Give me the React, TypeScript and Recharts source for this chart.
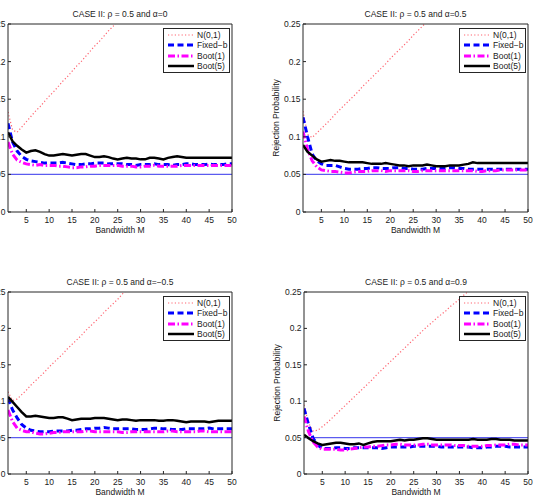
import { LineChart, Line, XAxis, YAxis, ReferenceLine, Legend, Label } from 'recharts'

const FONT = '"Liberation Sans", Arial, Helvetica, sans-serif'
const TEXT = '#1a1a1a'
const FRAME = '#262626'

const BANDWIDTH = [
  1, 2, 3, 4, 5, 6, 7, 8, 9, 10, 11, 12, 13, 14, 15, 16, 17, 18, 19, 20, 21, 22, 23, 24, 25,
  26, 27, 28, 29, 30, 31, 32, 33, 34, 35, 36, 37, 38, 39, 40, 41, 42, 43, 44, 45, 46, 47, 48, 49, 50,
]
const X_TICKS = [5, 10, 15, 20, 25, 30, 35, 40, 45, 50]
const Y_TICKS = [0, 0.05, 0.1, 0.15, 0.2, 0.25]
const NOMINAL = 0.05

// alpha = 0
const A0_N01 = [
  0.133, 0.109, 0.106, 0.113, 0.12, 0.127, 0.134, 0.14, 0.147, 0.154,
  0.16, 0.167, 0.174, 0.18, 0.187, 0.194, 0.2, 0.207, 0.214, 0.221,
  0.227, 0.234, 0.241, 0.247, 0.254, 0.261,
]
const A0_FIXEDB = [
  0.118, 0.093, 0.081, 0.074, 0.07, 0.068, 0.067, 0.066, 0.065, 0.065,
  0.065, 0.065, 0.066, 0.065, 0.064, 0.063, 0.063, 0.064, 0.064, 0.065,
  0.065, 0.065, 0.064, 0.064, 0.064, 0.064, 0.063, 0.063, 0.062, 0.063,
  0.063, 0.063, 0.064, 0.063, 0.063, 0.063, 0.062, 0.063, 0.063, 0.064,
  0.064, 0.063, 0.063, 0.063, 0.064, 0.063, 0.063, 0.063, 0.064, 0.064,
]
const A0_BOOT1 = [
  0.093, 0.077, 0.069, 0.066, 0.064, 0.063, 0.062, 0.063, 0.062, 0.062,
  0.062, 0.061, 0.061, 0.06, 0.059, 0.059, 0.06, 0.06, 0.061, 0.061,
  0.062, 0.062, 0.062, 0.062, 0.062, 0.061, 0.061, 0.061, 0.06, 0.06,
  0.061, 0.061, 0.062, 0.061, 0.061, 0.061, 0.061, 0.061, 0.062, 0.062,
  0.062, 0.062, 0.062, 0.062, 0.062, 0.062, 0.062, 0.062, 0.062, 0.062,
]
const A0_BOOT5 = [
  0.106, 0.094, 0.088, 0.083, 0.079, 0.081, 0.082, 0.08, 0.077, 0.075,
  0.075, 0.076, 0.077, 0.076, 0.075, 0.076, 0.077, 0.077, 0.075, 0.073,
  0.073, 0.074, 0.073, 0.071, 0.07, 0.071, 0.072, 0.071, 0.071, 0.07,
  0.07, 0.072, 0.072, 0.071, 0.07, 0.072, 0.073, 0.074, 0.073, 0.072,
  0.072, 0.072, 0.072, 0.072, 0.072, 0.072, 0.072, 0.072, 0.072, 0.072,
]

// alpha = 0.5
const A05_N01 = [
  0.134, 0.103, 0.099, 0.105, 0.111, 0.117, 0.123, 0.13, 0.136, 0.142,
  0.148, 0.154, 0.16, 0.167, 0.173, 0.179, 0.185, 0.191, 0.197, 0.204,
  0.21, 0.216, 0.222, 0.228, 0.235, 0.241, 0.247, 0.253, 0.259,
]
const A05_FIXEDB = [
  0.126, 0.1, 0.077, 0.068, 0.064, 0.062, 0.062, 0.062, 0.06, 0.058,
  0.057, 0.057, 0.057, 0.058, 0.058, 0.059, 0.059, 0.058, 0.058, 0.058,
  0.059, 0.059, 0.058, 0.058, 0.057, 0.057, 0.057, 0.058, 0.058, 0.058,
  0.058, 0.058, 0.059, 0.059, 0.058, 0.058, 0.057, 0.057, 0.057, 0.057,
  0.057, 0.057, 0.057, 0.057, 0.057, 0.057, 0.057, 0.057, 0.057, 0.057,
]
const A05_BOOT1 = [
  0.107, 0.083, 0.068, 0.06, 0.056, 0.055, 0.054, 0.054, 0.053, 0.052,
  0.052, 0.053, 0.054, 0.054, 0.054, 0.055, 0.055, 0.055, 0.054, 0.055,
  0.055, 0.055, 0.055, 0.055, 0.054, 0.054, 0.055, 0.055, 0.055, 0.055,
  0.055, 0.055, 0.055, 0.055, 0.055, 0.055, 0.055, 0.055, 0.054, 0.054,
  0.055, 0.055, 0.055, 0.056, 0.056, 0.056, 0.056, 0.056, 0.056, 0.056,
]
const A05_BOOT5 = [
  0.089, 0.08, 0.075, 0.07, 0.067, 0.068, 0.069, 0.068, 0.068, 0.067,
  0.066, 0.066, 0.066, 0.066, 0.065, 0.064, 0.064, 0.064, 0.065, 0.064,
  0.063, 0.062, 0.062, 0.061, 0.062, 0.062, 0.062, 0.063, 0.062, 0.061,
  0.061, 0.061, 0.062, 0.062, 0.062, 0.063, 0.064, 0.066, 0.065, 0.065,
  0.065, 0.065, 0.065, 0.065, 0.065, 0.065, 0.065, 0.065, 0.065, 0.065,
]

// alpha = -0.5
const AM05_N01 = [
  0.113, 0.101, 0.103, 0.109, 0.115, 0.122, 0.128, 0.134, 0.14, 0.147,
  0.153, 0.159, 0.165, 0.172, 0.178, 0.184, 0.19, 0.197, 0.203, 0.209,
  0.215, 0.222, 0.228, 0.234, 0.24, 0.247, 0.253, 0.259,
]
const AM05_FIXEDB = [
  0.104, 0.088, 0.077, 0.068, 0.063, 0.06, 0.059, 0.058, 0.058, 0.058,
  0.059, 0.059, 0.059, 0.059, 0.06, 0.06, 0.061, 0.062, 0.062, 0.063,
  0.063, 0.064, 0.063, 0.062, 0.062, 0.062, 0.062, 0.062, 0.061, 0.061,
  0.061, 0.062, 0.063, 0.063, 0.062, 0.062, 0.061, 0.061, 0.061, 0.062,
  0.062, 0.062, 0.062, 0.062, 0.063, 0.062, 0.062, 0.062, 0.062, 0.062,
]
const AM05_BOOT1 = [
  0.088, 0.072, 0.063, 0.06, 0.058, 0.058, 0.056, 0.055, 0.055, 0.056,
  0.057, 0.057, 0.058, 0.058, 0.058, 0.058, 0.058, 0.059, 0.059, 0.058,
  0.058, 0.058, 0.058, 0.058, 0.058, 0.057, 0.057, 0.058, 0.058, 0.058,
  0.058, 0.058, 0.058, 0.058, 0.058, 0.059, 0.059, 0.058, 0.058, 0.058,
  0.058, 0.058, 0.059, 0.059, 0.058, 0.058, 0.058, 0.058, 0.058, 0.058,
]
const AM05_BOOT5 = [
  0.106, 0.099, 0.092, 0.085, 0.079, 0.079, 0.08, 0.079, 0.078, 0.077,
  0.077, 0.078, 0.078, 0.076, 0.074, 0.075, 0.076, 0.076, 0.076, 0.077,
  0.077, 0.077, 0.076, 0.075, 0.074, 0.075, 0.075, 0.074, 0.073, 0.074,
  0.074, 0.074, 0.074, 0.073, 0.073, 0.074, 0.074, 0.073, 0.072, 0.071,
  0.072, 0.072, 0.072, 0.072, 0.071, 0.072, 0.073, 0.073, 0.073, 0.073,
]

// alpha = 0.9
const A09_N01 = [
  0.095, 0.07, 0.059, 0.06, 0.065, 0.07, 0.076, 0.082, 0.088, 0.094,
  0.1, 0.106, 0.112, 0.118, 0.124, 0.13, 0.137, 0.143, 0.149, 0.155,
  0.161, 0.167, 0.173, 0.179, 0.185, 0.191, 0.197, 0.203, 0.208, 0.214,
  0.219, 0.224, 0.23, 0.235, 0.24, 0.246, 0.251, 0.256,
]
const A09_FIXEDB = [
  0.09, 0.068, 0.049, 0.04, 0.035, 0.035, 0.035, 0.036, 0.036, 0.035,
  0.035, 0.036, 0.036, 0.036, 0.036, 0.036, 0.036, 0.035, 0.036, 0.037,
  0.037, 0.037, 0.037, 0.037, 0.038, 0.038, 0.038, 0.038, 0.038, 0.038,
  0.037, 0.037, 0.037, 0.037, 0.037, 0.037, 0.037, 0.036, 0.036, 0.036,
  0.037, 0.037, 0.038, 0.038, 0.038, 0.037, 0.037, 0.037, 0.037, 0.037,
]
const A09_BOOT1 = [
  0.079, 0.058, 0.044, 0.037, 0.034, 0.034, 0.034, 0.034, 0.033, 0.033,
  0.034, 0.035, 0.036, 0.037, 0.037, 0.038, 0.038, 0.039, 0.04, 0.04,
  0.041, 0.041, 0.04, 0.04, 0.04, 0.04, 0.041, 0.041, 0.04, 0.04,
  0.04, 0.04, 0.04, 0.039, 0.039, 0.039, 0.038, 0.038, 0.038, 0.038,
  0.039, 0.039, 0.04, 0.04, 0.04, 0.041, 0.041, 0.04, 0.04, 0.04,
]
const A09_BOOT5 = [
  0.054, 0.049, 0.045, 0.042, 0.04, 0.041, 0.042, 0.043, 0.043, 0.042,
  0.041, 0.041, 0.042, 0.04, 0.042, 0.044, 0.045, 0.045, 0.045, 0.045,
  0.046, 0.047, 0.046, 0.047, 0.047, 0.048, 0.049, 0.049, 0.048, 0.047,
  0.047, 0.047, 0.047, 0.047, 0.047, 0.047, 0.047, 0.048, 0.047, 0.047,
  0.047, 0.048, 0.048, 0.047, 0.047, 0.047, 0.046, 0.046, 0.046, 0.046,
]

const SERIES = [
  { key: 'n01', name: 'N(0,1)', color: '#ff6470', width: 1.2, dash: '1.2 2.2' },
  { key: 'fixedB', name: 'Fixed\u2212b', color: '#0000ff', width: 3, dash: '6 3.5' },
  { key: 'boot1', name: 'Boot(1)', color: '#ff00ff', width: 3, dash: '7 2.5 1.5 2.5' },
  { key: 'boot5', name: 'Boot(5)', color: '#000000', width: 2.5, dash: undefined },
]

const Y_AXIS_W = 35
const X_AXIS_H = 38
const RIGHT_PAD = 9
const LEGEND_W = 67
const FONT_SIZE = 8.5

function LegendBox() {
  return (
    <div
      style={{
        boxSizing: 'border-box',
        width: LEGEND_W,
        border: `1px solid ${FRAME}`,
        background: '#fff',
        padding: '1px 2px 1px 4px',
        fontFamily: FONT,
        fontSize: FONT_SIZE,
        color: TEXT,
      }}
    >
      {SERIES.map((s) => (
        <div key={s.key} style={{ display: 'flex', alignItems: 'center', height: 10.3, whiteSpace: 'nowrap' }}>
          <svg width={26} height={8} style={{ marginRight: 3, flex: 'none' }}>
            <line x1={0} x2={26} y1={4} y2={4} stroke={s.color} strokeWidth={s.width} strokeDasharray={s.dash} />
          </svg>
          <span>{s.name}</span>
        </div>
      ))}
    </div>
  )
}

function XTitle({ viewBox }: any) {
  const x = viewBox.x + viewBox.width / 2
  const y = viewBox.y + 17.5
  return (
    <text x={x} y={y} textAnchor="middle" dominantBaseline="central" fill={TEXT} fontSize={FONT_SIZE} fontFamily={FONT}>
      Bandwidth M
    </text>
  )
}

function YTitle({ viewBox }: any) {
  const x = viewBox.x + 8
  const y = viewBox.y + viewBox.height / 2
  return (
    <text
      x={x}
      y={y}
      transform={`rotate(-90 ${x} ${y})`}
      textAnchor="middle"
      dominantBaseline="central"
      fill={TEXT}
      fontSize={FONT_SIZE}
      fontFamily={FONT}
    >
      Rejection Probability
    </text>
  )
}

interface PanelProps {
  title: string
  n01: number[]
  fixedB: number[]
  boot1: number[]
  boot5: number[]
  left: number
  top: number
  plotTop: number
  plotWidth: number
  plotHeight: number
}

function Panel({ title, n01, fixedB, boot1, boot5, left, top, plotTop, plotWidth, plotHeight }: PanelProps) {
  // N(0,1) leaves the frame early, so its list is shorter than the others
  const rows = BANDWIDTH.map((m, i) => ({
    m,
    n01: i < n01.length ? n01[i] : null,
    fixedB: fixedB[i],
    boot1: boot1[i],
    boot5: boot5[i],
  }))
  const width = Y_AXIS_W + plotWidth + RIGHT_PAD
  const height = plotTop + plotHeight + X_AXIS_H
  const tickStyle = { fill: TEXT, fontSize: FONT_SIZE, fontFamily: FONT }

  return (
    <div style={{ position: 'absolute', left, top, width, height }}>
      <div
        style={{
          position: 'absolute',
          left: Y_AXIS_W,
          top: plotTop - 16,
          width: plotWidth,
          height: 12,
          lineHeight: '12px',
          textAlign: 'center',
          fontFamily: FONT,
          fontSize: FONT_SIZE,
          color: TEXT,
          whiteSpace: 'nowrap',
        }}
      >
        {title}
      </div>
      <LineChart width={width} height={height} data={rows} margin={{ top: plotTop, right: RIGHT_PAD, bottom: 0, left: 0 }}>
        <XAxis
          xAxisId="bottom"
          dataKey="m"
          type="number"
          domain={[1, 50]}
          ticks={X_TICKS}
          interval={0}
          allowDataOverflow
          height={X_AXIS_H}
          tickSize={-3}
          tickMargin={8}
          tick={tickStyle}
          axisLine={{ stroke: FRAME }}
          tickLine={{ stroke: FRAME }}
        >
          <Label content={XTitle} />
        </XAxis>
        <XAxis
          xAxisId="top"
          orientation="top"
          mirror
          dataKey="m"
          type="number"
          domain={[1, 50]}
          ticks={X_TICKS}
          interval={0}
          allowDataOverflow
          tick={false}
          tickSize={3}
          axisLine={{ stroke: FRAME }}
          tickLine={{ stroke: FRAME }}
        />
        <YAxis
          yAxisId="left"
          type="number"
          domain={[0, 0.25]}
          ticks={Y_TICKS}
          interval={0}
          allowDataOverflow
          width={Y_AXIS_W}
          tickSize={-3}
          tickMargin={5.5}
          tick={tickStyle}
          axisLine={{ stroke: FRAME }}
          tickLine={{ stroke: FRAME }}
        >
          <Label content={YTitle} />
        </YAxis>
        <YAxis
          yAxisId="right"
          orientation="right"
          mirror
          type="number"
          domain={[0, 0.25]}
          ticks={Y_TICKS}
          interval={0}
          allowDataOverflow
          tick={false}
          tickSize={3}
          axisLine={{ stroke: FRAME }}
          tickLine={{ stroke: FRAME }}
        />
        <ReferenceLine xAxisId="bottom" yAxisId="left" y={NOMINAL} stroke="#5b5bef" strokeWidth={1.2} />
        {SERIES.map((s) => (
          <Line
            key={s.key}
            xAxisId="bottom"
            yAxisId="left"
            dataKey={s.key}
            name={s.name}
            type="linear"
            stroke={s.color}
            strokeWidth={s.width}
            strokeDasharray={s.dash}
            dot={false}
            activeDot={false}
            isAnimationActive={false}
          />
        ))}
        <Legend
          layout="horizontal"
          verticalAlign="middle"
          align="center"
          wrapperStyle={{ left: Y_AXIS_W + plotWidth - LEGEND_W - 2, top: plotTop + 4, width: LEGEND_W, height: 'auto' }}
          content={() => <LegendBox />}
        />
      </LineChart>
    </div>
  )
}

export default function App() {
  return (
    <div
      style={{
        position: 'absolute',
        left: 0,
        top: 0,
        width: 537,
        height: 501,
        overflow: 'hidden',
        background: '#fff',
      }}
    >
      <Panel
        title="CASE II: ρ = 0.5 and α=0"
        n01={A0_N01}
        fixedB={A0_FIXEDB}
        boot1={A0_BOOT1}
        boot5={A0_BOOT5}
        left={-27}
        top={0}
        plotTop={24}
        plotWidth={224}
        plotHeight={188}
      />
      <Panel
        title="CASE II: ρ = 0.5 and α=0.5"
        n01={A05_N01}
        fixedB={A05_FIXEDB}
        boot1={A05_BOOT1}
        boot5={A05_BOOT5}
        left={268}
        top={0}
        plotTop={24}
        plotWidth={225}
        plotHeight={188}
      />
      <Panel
        title="CASE II: ρ = 0.5 and α=−0.5"
        n01={AM05_N01}
        fixedB={AM05_FIXEDB}
        boot1={AM05_BOOT1}
        boot5={AM05_BOOT5}
        left={-27}
        top={250}
        plotTop={42}
        plotWidth={224}
        plotHeight={182}
      />
      <Panel
        title="CASE II: ρ = 0.5 and α=0.9"
        n01={A09_N01}
        fixedB={A09_FIXEDB}
        boot1={A09_BOOT1}
        boot5={A09_BOOT5}
        left={269}
        top={250}
        plotTop={42}
        plotWidth={224}
        plotHeight={182}
      />
    </div>
  )
}
